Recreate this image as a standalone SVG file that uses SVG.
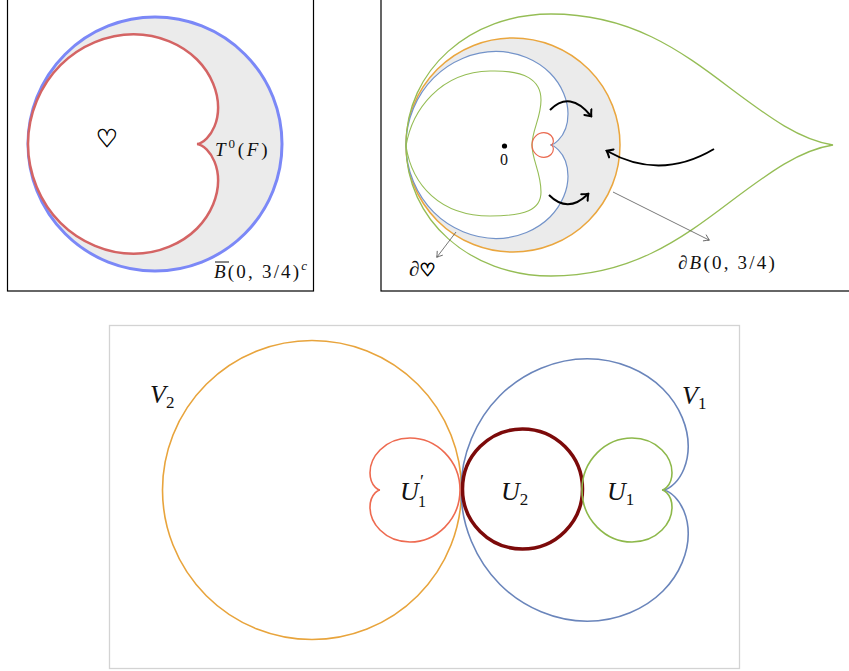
<svg xmlns="http://www.w3.org/2000/svg" xmlns:xlink="http://www.w3.org/1999/xlink" width="849" height="671" viewBox="0 0 849 671">
<style>
.frame{fill:none;stroke:#000;stroke-width:1.2}
.m{font-family:"Liberation Serif","DejaVu Serif",serif;font-style:italic;fill:#111}
.r{font-family:"Liberation Serif","DejaVu Serif",serif;font-style:normal;fill:#111}
.sym{font-family:"DejaVu Sans",sans-serif;font-style:normal}
.curve{fill:none}
.barrow{fill:none;stroke:#000;stroke-width:2;marker-end:url(#hb)}
.garrow{fill:none;stroke:#555;stroke-width:0.8;marker-end:url(#hg)}
</style>
<defs>
<path id="card" d="M0,0 C0,0 5.21,0.31 11.6,6.7 C17.99,13.09 25,25.85 25,43.3 C25,60.75 17.45,82.55 0,100 C-17.45,117.45 -44.77,129.9 -75,129.9 C-105.23,129.9 -137.76,117.14 -161.6,93.3 C-185.44,69.46 -200,34.91 -200,0 C-200,-34.91 -185.44,-69.46 -161.6,-93.3 C-137.76,-117.14 -105.23,-129.9 -75,-129.9 C-44.77,-129.9 -17.45,-117.45 0,-100 C17.45,-82.55 25,-60.75 25,-43.3 C25,-25.85 17.99,-13.09 11.6,-6.7 C5.21,-0.31 0,0 0,0 Z"/>
<marker id="hb" viewBox="-6 -6 8 12" markerWidth="8" markerHeight="12" refX="0" refY="0" orient="auto" markerUnits="userSpaceOnUse">
<path d="M-5,-4.5 Q-1.5,-1.2 0.5,0 Q-1.5,1.2 -5,4.5" fill="none" stroke="#000" stroke-width="2" stroke-linecap="round"/>
</marker>
<marker id="hg" viewBox="-7 -5 9 10" markerWidth="9" markerHeight="10" refX="0" refY="0" orient="auto" markerUnits="userSpaceOnUse">
<path d="M-5,-3.5 Q-1.5,-1 0.5,0 Q-1.5,1 -5,3.5" fill="none" stroke="#555" stroke-width="0.8"/>
</marker>
</defs>

<!-- Top-left panel -->
<g id="panel-left">
<rect class="frame" x="7.5" y="-2" width="306" height="293"/>
<circle id="ball-left" cx="155" cy="144" r="127" fill="#ebebeb" stroke="#7b88f7" stroke-width="3"/>
<use id="heart-left" xlink:href="#card" href="#card" transform="translate(197,144) scale(0.845)" fill="#fff" stroke="#d46464" stroke-width="2.96"/>
<text class="sym" x="107" y="147" font-size="25" text-anchor="middle" fill="#000" stroke="#000" stroke-width="0.5">♡</text>
<text class="m" x="215" y="156" font-size="19" letter-spacing="2.8">T<tspan font-style="normal" font-size="13" dy="-8">0</tspan><tspan font-style="normal" dy="8">(</tspan>F<tspan font-style="normal">)</tspan></text>
<line x1="215" y1="262" x2="229" y2="262" stroke="#111" stroke-width="1"/>
<text class="m" x="214" y="278" font-size="19" letter-spacing="2.2">B<tspan font-style="normal">(0, 3/4)</tspan><tspan font-size="13" dy="-8">c</tspan></text>
</g>

<!-- Top-right panel -->
<g id="panel-right">
<rect class="frame" x="381" y="-2" width="480" height="293"/>
<circle id="ball-right" cx="513" cy="145" r="107" fill="#ebebeb" stroke="#eaa63e" stroke-width="1.5"/>
<use id="heart-blue" xlink:href="#card" href="#card" transform="translate(550,145) scale(0.72)" fill="#fff" stroke="#7393c9" stroke-width="1.67"/>
<path id="heart-green" class="curve" d="M406,146 C412,110 440,72 490,71 C525,70 541,80 541,100 C541,118 532,130 532,145 C532,160 541,172 541,192 C541,210 525,216 490,216 C440,216 412,185 406,146 Z" stroke="#95bd55" stroke-width="1.1"/>
<path id="teardrop" class="curve" d="M406,145 C406,70 470,14 551,14 C630,14 680,50 730,88 C770,118 800,140 833,145 C800,150 770,172 730,202 C680,240 630,276 551,276 C470,276 406,220 406,145 Z" stroke="#95bd55" stroke-width="1.3"/>
<use id="heart-red" xlink:href="#card" href="#card" transform="translate(551,145) scale(0.095)" fill="none" stroke="#ea6a50" stroke-width="12.6"/>
<circle cx="504.5" cy="146" r="2.6" fill="#000"/>
<text class="r" x="504" y="165" font-size="16" text-anchor="middle">0</text>
<text class="m" x="409" y="276" font-size="21" fill="#000" font-weight="bold">∂<tspan class="sym" font-size="18" stroke="#000" stroke-width="0.9">♡</tspan></text>
<text class="m" x="678" y="269" font-size="19" fill="#333" letter-spacing="2.2">∂B<tspan font-style="normal">(0, 3/4)</tspan></text>
</g>

<g id="connectors">
<path class="barrow" d="M550,110 Q570,90 591,116"/>
<path class="barrow" d="M549,195 Q568,214 588,194"/>
<path class="barrow" d="M714,149 Q660,181 607,151"/>
<path class="garrow" d="M613,192 L709,240"/>
<path class="garrow" d="M456,232 L437,257"/>
</g>

<!-- Bottom panel -->
<g id="panel-bottom">
<rect x="109.5" y="325.5" width="630" height="343" fill="none" stroke="#d3d3d3" stroke-width="1.3"/>
<circle id="V2" cx="312" cy="490" r="149.5" fill="none" stroke="#e8a43c" stroke-width="1.6"/>
<use id="V1" xlink:href="#card" href="#card" transform="translate(663,490) scale(1.01)" fill="none" stroke="#6a85bb" stroke-width="1.58"/>
<circle id="U2" cx="522.5" cy="489" r="60" fill="none" stroke="#7c0a0a" stroke-width="3.5"/>
<use id="U1p" xlink:href="#card" href="#card" transform="translate(380,490) scale(-0.4,0.4)" fill="none" stroke="#ee6a50" stroke-width="4"/>
<use id="U1" xlink:href="#card" href="#card" transform="translate(662,490) scale(0.4)" fill="none" stroke="#8db84a" stroke-width="4"/>
<text class="m" x="150" y="403" font-size="26">V<tspan font-style="normal" font-size="17" dy="5">2</tspan></text>
<text class="m" x="682" y="404" font-size="26">V<tspan font-style="normal" font-size="17" dy="5">1</tspan></text>
<text class="m" x="400" y="500" font-size="26">U</text>
<text class="r" x="420" y="488" font-size="18">′</text>
<text class="r" x="418" y="507" font-size="16">1</text>
<text class="m" x="501" y="500" font-size="26">U<tspan font-style="normal" font-size="17" dy="5">2</tspan></text>
<text class="m" x="607" y="500" font-size="26">U<tspan font-style="normal" font-size="17" dy="5">1</tspan></text>
</g>
</svg>
